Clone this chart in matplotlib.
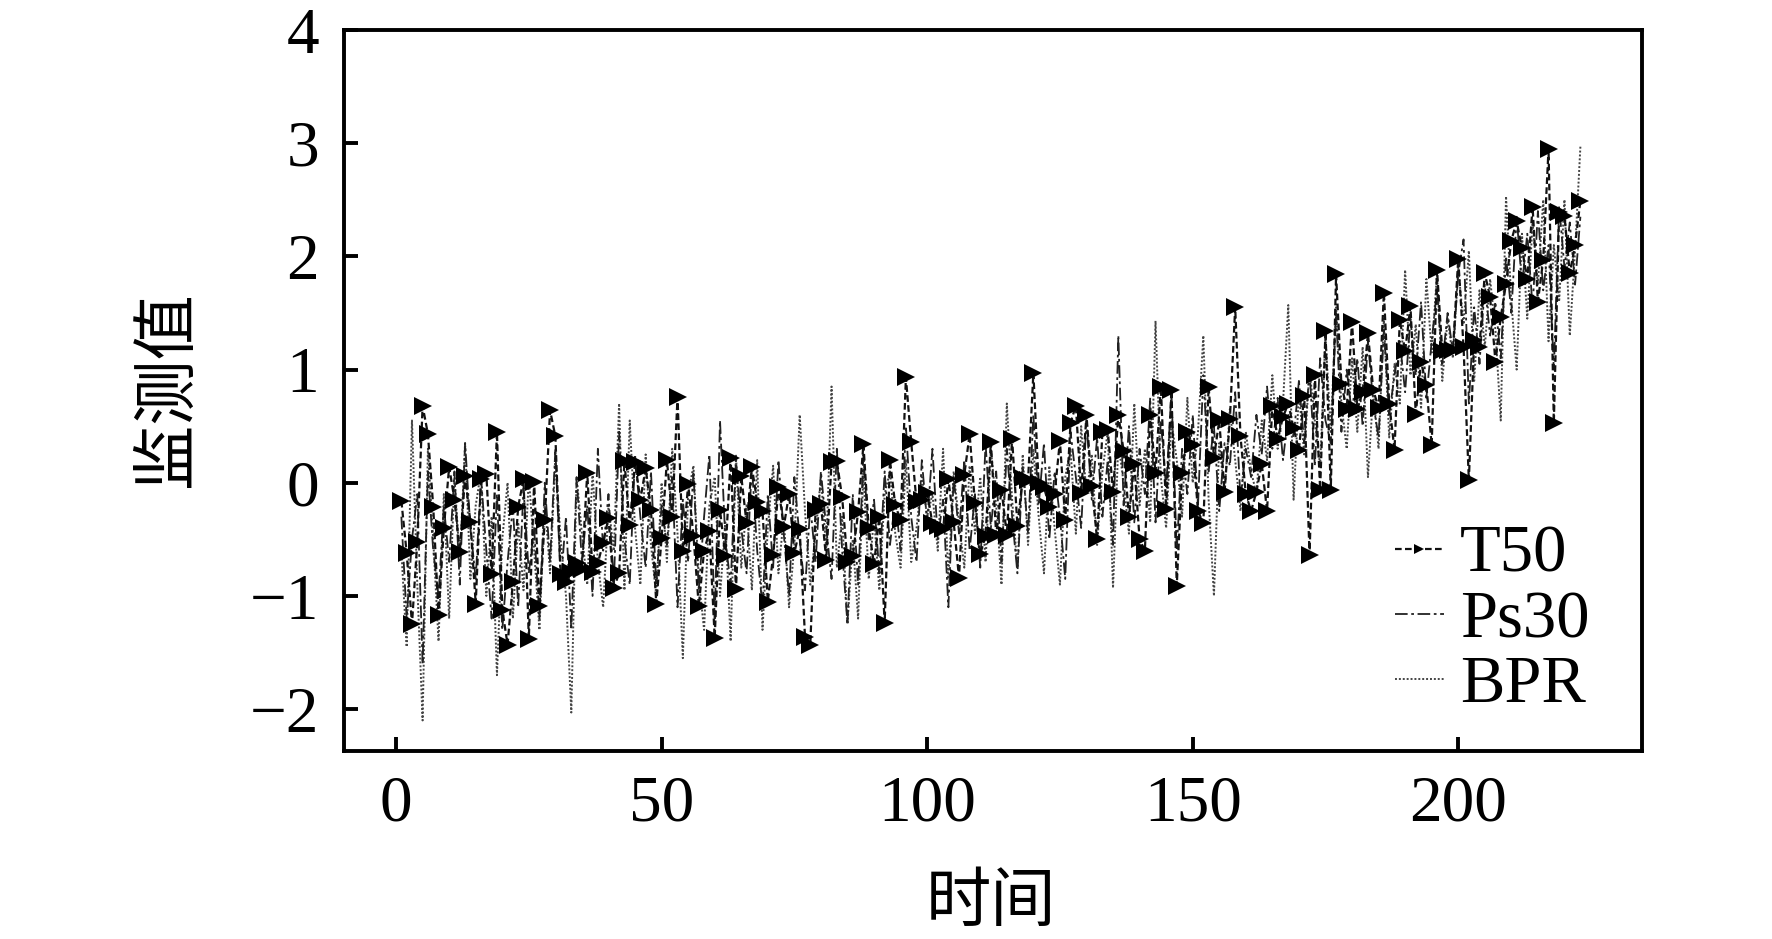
import numpy as np
import matplotlib
matplotlib.use("Agg")
import matplotlib.pyplot as plt

t50 = [-0.16,-0.62,-1.25,-0.52,0.68,0.43,-0.21,-1.17,-0.40,0.14,
-0.15,-0.61,0.06,-0.35,-1.07,0.03,0.08,-0.81,0.45,-1.12,
-1.43,-0.88,-0.21,0.03,-1.38,0.01,-1.09,-0.33,0.64,0.41,
-0.81,-0.88,-0.79,-0.71,-0.76,0.09,-0.79,-0.71,-0.53,-0.31,
-0.93,-0.80,0.19,-0.37,0.18,-0.15,0.13,-0.24,-1.07,-0.49,
0.20,-0.30,0.76,-0.60,-0.01,-0.47,-1.09,-0.60,-0.43,-1.37,
-0.24,-0.65,0.22,-0.94,0.06,-0.36,0.14,-0.17,-0.25,-1.05,
-0.64,-0.04,-0.39,-0.10,-0.62,-0.41,-1.36,-1.43,-0.24,-0.19,
-0.68,0.18,0.19,-0.13,-0.70,-0.65,-0.26,0.34,-0.40,-0.72,
-0.30,-1.24,0.20,-0.20,-0.33,0.93,0.36,-0.17,-0.15,-0.09,
-0.36,-0.38,-0.41,0.03,-0.35,-0.84,0.07,0.43,-0.18,-0.63,
-0.47,0.36,-0.46,-0.06,-0.46,0.39,-0.38,0.04,0.02,0.97,
0.00,-0.04,-0.21,-0.10,0.37,-0.33,0.53,0.68,-0.09,0.60,
-0.03,-0.50,0.45,0.47,-0.08,0.60,0.28,-0.30,0.17,-0.50,
-0.60,0.60,0.09,0.85,-0.23,0.82,-0.91,0.09,0.45,0.33,
-0.25,-0.36,0.85,0.22,0.55,-0.08,0.56,1.55,0.41,-0.10,
-0.25,-0.08,0.17,-0.25,0.68,0.39,0.58,0.70,0.48,0.29,
0.77,-0.64,0.95,-0.06,1.34,-0.06,1.84,0.87,0.65,1.42,
0.65,0.80,1.32,0.82,0.66,1.68,0.70,0.29,1.44,1.16,
1.56,0.61,1.07,0.86,0.33,1.88,1.16,1.17,1.17,1.98,
1.20,0.02,1.26,1.20,1.85,1.64,1.07,1.46,1.76,2.14,
2.31,2.07,1.80,2.44,1.60,1.97,2.95,0.53,2.39,2.36,
1.85,2.10,2.49]

ps30 = [-0.30,-1.20,-0.50,-0.10,-1.60,0.10,-0.60,-1.00,-0.20,-0.70,
0.10,-0.90,0.35,-0.40,-0.85,0.05,-0.60,-1.20,-0.10,-1.30,
-0.70,-0.20,-1.10,-0.05,-0.80,-0.40,-1.20,0.00,-0.70,0.30,
-0.90,-0.30,-1.30,0.05,-0.70,-0.20,-1.00,0.30,-0.60,-0.10,
-0.90,0.45,-0.50,-0.90,0.25,-0.30,-0.75,0.10,-0.90,-0.20,
-0.55,0.05,-1.10,-0.15,-0.70,0.10,-0.95,-0.30,0.25,-1.20,
0.55,-0.50,-0.90,0.20,-0.40,-0.80,0.15,-0.60,-1.10,-0.10,
-0.75,0.20,-0.45,-1.00,0.05,-0.50,-0.95,-0.20,-0.70,0.10,
-0.40,-0.85,0.30,-0.60,-1.25,-0.10,-0.90,0.25,-0.50,-0.15,
-0.80,0.10,-0.55,-0.15,-0.60,0.50,-0.30,-0.70,0.20,-0.35,
0.30,-0.50,-0.15,-1.10,0.05,-0.45,0.20,-0.60,-0.10,-0.75,
0.35,-0.40,0.10,-0.70,0.30,-0.30,-0.80,0.15,-0.45,0.60,
-0.20,0.35,-0.50,0.10,-0.30,-0.85,0.45,0.05,-0.40,0.55,
-0.15,0.40,-0.30,0.20,-0.55,1.30,-0.20,0.50,-0.35,0.30,
-0.10,0.75,-0.35,0.55,-0.05,0.80,-0.60,0.30,-0.10,0.60,
-0.20,0.95,0.10,0.50,-0.25,0.35,0.15,0.80,-0.15,0.30,
0.05,0.60,0.25,0.85,0.30,0.75,0.20,0.60,0.40,0.90,
0.35,1.00,0.15,1.10,0.55,0.35,1.50,0.45,1.00,0.60,
1.10,0.50,1.25,0.70,0.40,1.35,0.60,0.95,1.25,0.80,
1.45,0.95,1.60,0.75,1.25,1.70,1.05,1.50,1.15,1.85,
2.15,0.70,1.55,1.05,1.75,1.30,1.60,1.10,2.00,1.50,
2.35,1.75,2.20,1.55,2.40,1.70,2.10,1.00,2.45,1.90,
2.30,1.75,2.35]

bpr = [-0.60,-1.45,0.55,-0.90,-2.10,0.30,-0.50,-1.40,-0.10,-1.20,
0.05,-0.70,0.35,-0.85,-0.20,0.10,-1.00,-0.30,-1.70,-0.50,
0.00,-1.20,-0.35,-0.95,0.05,-0.60,-1.30,-0.15,-0.80,0.20,
-0.50,-1.00,-2.03,0.05,-0.45,-0.90,0.10,-0.70,-1.10,-0.20,
-0.60,0.70,-0.95,0.55,-0.40,-0.90,0.25,-0.55,-1.00,0.00,
-0.70,0.30,-0.45,-1.55,-0.10,0.15,-0.85,-1.30,-0.20,0.05,
-1.00,-0.35,-1.40,0.25,-0.75,-0.20,-0.95,0.20,-1.30,-0.40,
0.15,-0.80,-0.30,-1.10,-0.55,0.60,-0.25,-0.90,-0.45,0.05,
-0.60,0.85,-0.75,-0.30,-1.25,-0.50,-1.20,0.10,-0.85,-0.30,
-0.95,-0.10,0.10,-0.45,-0.75,0.20,-0.70,-0.40,0.05,-0.30,
-0.10,-0.60,0.30,-0.85,0.10,-0.35,-0.75,0.15,-0.45,0.05,
-0.70,0.30,-0.20,-0.90,0.70,-0.15,-0.75,0.25,-0.55,0.30,
-0.30,-0.80,0.15,-0.40,-0.90,0.05,0.30,-0.45,0.50,-0.10,
0.25,-0.55,0.10,0.45,-0.93,0.35,0.00,-0.45,0.70,-0.20,
0.30,-0.35,1.43,0.05,-0.40,0.55,0.20,-0.30,0.75,0.00,
0.45,1.30,-0.15,-1.00,0.35,-0.10,0.65,0.20,-0.25,0.45,
0.10,-0.10,0.55,0.20,0.95,0.30,0.70,1.57,-0.15,0.80,
0.25,1.00,0.55,0.15,1.30,0.45,1.55,0.70,0.30,1.10,
0.45,1.20,0.05,0.80,0.30,1.45,0.40,1.05,0.70,1.88,
0.95,1.40,0.65,1.80,1.15,1.85,0.90,1.45,1.10,1.90,
1.40,2.05,0.90,1.70,1.20,1.80,1.35,0.55,2.53,1.60,
1.00,2.20,1.45,2.30,1.75,2.50,1.25,2.10,1.60,2.50,
1.30,2.05,2.97]

xticks = [0, 50, 100, 150, 200]
yticks = [-2, -1, 0, 1, 2, 3, 4]
xlabel = "时间"
ylabel = "监测值"

W, H = 1772, 939
SERIF = ["Liberation Serif", "DejaVu Serif"]
CJK = ["Noto Sans CJK SC", "DejaVu Sans"]
fig = plt.figure(figsize=(W/100, H/100), dpi=100)
L, R, T, B = 344, 1642, 30, 751
ax = fig.add_axes([L/W, 1-B/H, (R-L)/W, (B-T)/H])

x = np.arange(1, len(t50)+1)
ax.plot(np.arange(1, len(bpr)+1), bpr, ls=(0, (1, 1)), color="#444444", lw=1.4, label="BPR", zorder=2)
ax.plot(np.arange(1, len(ps30)+1), ps30, ls=(0, (7, 2, 1.5, 2)), color="#222222", lw=1.3, label="Ps30", zorder=3)
ax.plot(x, t50, ls=(0, (3, 1.5)), color="#111111", lw=1.6, marker=">", ms=13,
        mfc="black", mec="black", mew=0, label="T50", zorder=4)

ax.set_xlim(-9.8, 234.6)
ax.set_ylim(-2.37, 4.0)
ax.set_xticks(xticks)
ax.set_yticks(yticks)
ax.tick_params(axis="both", direction="in", length=10, width=2.8, top=False, right=False,
               labelsize=47)
ax.tick_params(axis="x", pad=17)
ax.tick_params(axis="y", pad=18)
for lab in ax.get_xticklabels() + ax.get_yticklabels():
    lab.set_fontfamily(SERIF)
for s in ax.spines.values():
    s.set_linewidth(2.8)

handles, labels = ax.get_legend_handles_labels()
order = [2, 1, 0]
leg = ax.legend([handles[i] for i in order], [labels[i] for i in order], loc="lower left",
                bbox_to_anchor=(1395/W, 1-716/H), bbox_transform=fig.transFigure,
                frameon=False, prop={"family": SERIF, "size": 48},
                handlelength=0.73, handletextpad=0.24, labelspacing=0.06,
                markerscale=0.6, borderpad=0, borderaxespad=0)

fig.text(991/W, 1-903/H, xlabel, fontfamily=CJK, fontsize=47, ha="center", va="center")
fig.text(168/W, 1-389/H, ylabel, fontfamily=CJK, fontsize=47, ha="center", va="center", rotation=90)

fig.savefig("out.png", dpi=100, facecolor="white")
